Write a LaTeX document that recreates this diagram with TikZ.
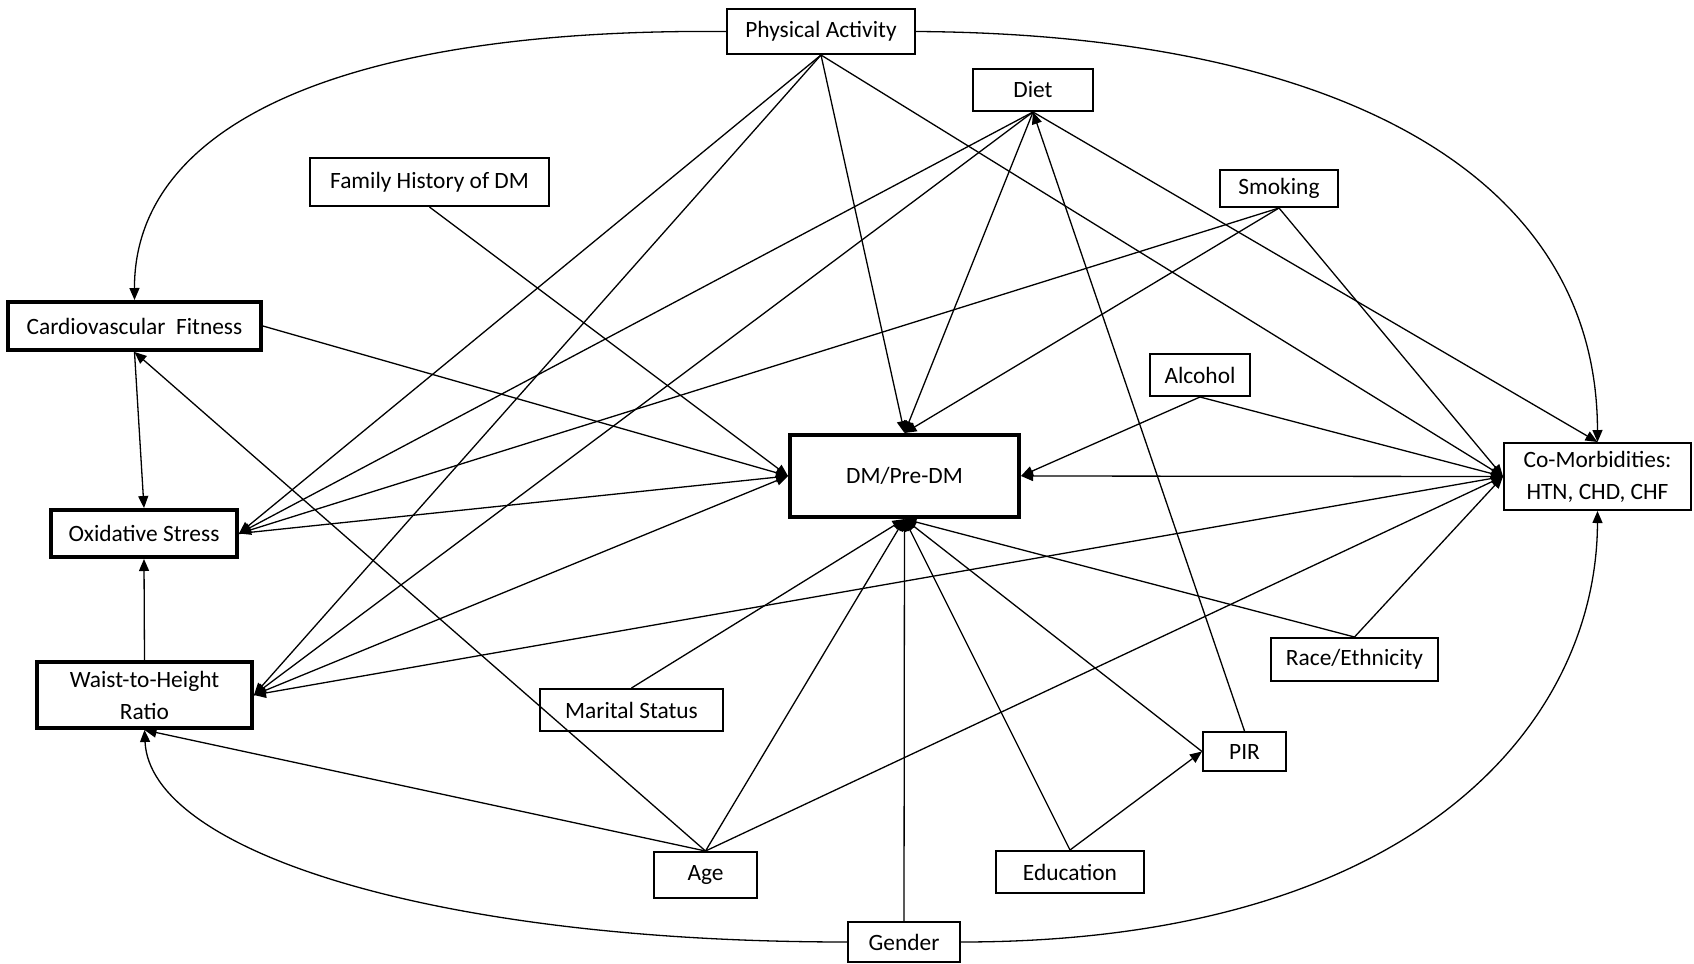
\documentclass[tikz,border=0pt]{standalone}
\usepackage{fontspec}
\setmainfont{Carlito}
\usetikzlibrary{arrows.meta}
\begin{document}
\begin{tikzpicture}[x=0.5pt,y=-0.5pt,
 box/.style={draw, line width=1pt, rectangle, inner sep=0pt, align=center, font=\fontsize{11.7}{16}\selectfont},
 thickbox/.style={box, line width=2pt},
 arr/.style={-{Triangle[length=6pt,width=5pt]}, line width=0.65pt},
]
\useasboundingbox (0,0) rectangle (1694,964);
% nodes
\node[box, minimum width=94pt, minimum height=22.5pt] (pa) at (821,31.5) {Physical Activity};
\node[box, minimum width=60pt, minimum height=21pt] (diet) at (1033,90) {Diet};
\node[box, minimum width=119.5pt, minimum height=24pt] (fh) at (429.5,182) {Family History of DM};
\node[box, minimum width=59pt, minimum height=18.5pt] (smk) at (1279,188.5) {Smoking};
\node[thickbox, minimum width=126.5pt, minimum height=24pt] (cf) at (134.5,326) {Cardiovascular\ \ Fitness};
\node[thickbox, minimum width=93pt, minimum height=23.5pt] (os) at (144,533.5) {Oxidative Stress};
\node[thickbox, minimum width=107.5pt, minimum height=33pt] (whr) at (144.5,695) {Waist-to-Height\\Ratio};
\node[thickbox, minimum width=114.5pt, minimum height=41pt] (dm) at (904.5,476) {DM/Pre-DM};
\node[box, minimum width=50pt, minimum height=21pt] (alc) at (1200,375) {Alcohol};
\node[box, minimum width=93.5pt, minimum height=33.5pt] (cm) at (1597.5,476.5) {Co-Morbidities:\\HTN, CHD, CHF};
\node[box, minimum width=83.5pt, minimum height=21.5pt] (race) at (1354.5,659.5) {Race/Ethnicity};
\node[box, minimum width=91.5pt, minimum height=21pt] (mar) at (631.5,710) {Marital Status};
\node[box, minimum width=41.5pt, minimum height=19.5pt] (pir) at (1244.5,751.5) {PIR};
\node[box, minimum width=51.5pt, minimum height=23pt] (age) at (705.5,875) {Age};
\node[box, minimum width=74pt, minimum height=21pt] (edu) at (1070,872) {Education};
\node[box, minimum width=56pt, minimum height=20pt] (gen) at (904,942) {Gender};
% physical activity
\draw[arr] (pa.south) -- (os.east);
\draw[arr] (pa.south) -- (whr.east);
\draw[arr] (pa.south) -- (dm.north);
\draw[arr] (pa.south) -- (cm.west);
\draw[arr] (pa.west) .. controls (330,28) and (134,130) .. (cf.north);
\draw[arr] (pa.east) .. controls (1330,34) and (1597,170) .. (cm.north);
% diet
\draw[arr] (diet.south) -- (os.east);
\draw[arr] (diet.south) -- (whr.east);
\draw[arr] (diet.south) -- (dm.north);
\draw[arr] (diet.south) -- (cm.north);
\draw[arr] (pir.north) -- (diet.south);
% family history
\draw[arr] (fh.south) -- (dm.west);
% smoking
\draw[arr] (smk.south) -- (os.east);
\draw[arr] (smk.south) -- (dm.north);
\draw[arr] (smk.south) -- (cm.west);
% cardiovascular fitness
\draw[arr] (cf.east) -- (dm.west);
\draw[arr] (cf.south) -- (os.north);
% age
\draw[arr] (age.north) -- (cf.south);
\draw[arr] (age.north) -- (whr.south);
\draw[arr] (age.north) -- (dm.south);
\draw[arr] (age.north) -- (cm.west);
% alcohol
\draw[arr] (alc.south) -- (dm.east);
\draw[arr] (alc.south) -- (cm.west);
% oxidative stress, waist-to-height
\draw[arr] (os.east) -- (dm.west);
\draw[arr] (whr.east) -- (dm.west);
\draw[arr] (cm.west) -- (whr.east);
\draw[arr] (whr.north) -- (os.south);
\draw[arr] (cm.west) -- (dm.east);
% bottom row
\draw[arr] (gen.north) -- (dm.south);
\draw[arr] (gen.west) .. controls (430,942) and (150,850) .. (whr.south);
\draw[arr] (gen.east) .. controls (1420,942) and (1597,720) .. (cm.south);
\draw[arr] (mar.north) -- (dm.south);
\draw[arr] (edu.north) -- (dm.south);
\draw[arr] (edu.north) -- (pir.west);
\draw[arr] (pir.west) -- (dm.south);
\draw[arr] (race.north) -- (dm.south);
\draw[arr] (race.north) -- (cm.west);
\end{tikzpicture}
\end{document}
